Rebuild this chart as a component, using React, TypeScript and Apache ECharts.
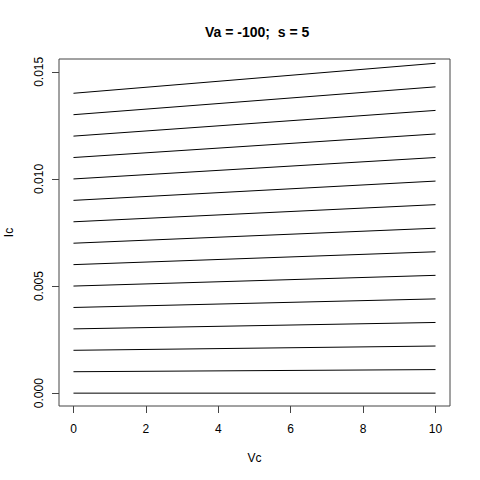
import React, { useEffect, useRef } from "react";
import * as echarts from "echarts";

const vcRange = [0, 10];
const icStart = [0, 0.001, 0.002, 0.003, 0.004, 0.005, 0.006, 0.007, 0.008, 0.009, 0.01, 0.011, 0.012, 0.013, 0.014];
const icEnd = [0, 0.0011, 0.0022, 0.0033, 0.0044, 0.0055, 0.0066, 0.0077, 0.0088, 0.0099, 0.011, 0.0121, 0.0132, 0.0143, 0.0154];
const xTicks = [0, 2, 4, 6, 8, 10];
const yTicks = [0, 0.005, 0.01, 0.015];
const titleText = "Va = -100;  s = 5";

export default function App() {
  const ref = useRef<HTMLDivElement>(null);
  useEffect(() => {
    const chart = echarts.init(ref.current!, null, { renderer: "svg" });
    const font = "Liberation Sans, Arial, sans-serif";
    const series = icStart.map((s, i) => ({
      type: "line",
      data: [
        [vcRange[0], s],
        [vcRange[1], icEnd[i]],
      ],
      showSymbol: false,
      lineStyle: { color: "#000", width: 1 },
      silent: true,
    }));
    chart.setOption({
      animation: false,
      backgroundColor: "#fff",
      title: {
        text: titleText,
        left: 200,
        top: 20,
        textStyle: { fontFamily: font, fontSize: 14, fontWeight: "bold", color: "#000" },
      },
      grid: {
        left: 59,
        right: 30,
        top: 59,
        bottom: 74,
        show: true,
        borderColor: "#444",
        borderWidth: 1,
        backgroundColor: "transparent",
        containLabel: false,
        outerBoundsMode: "none",
      },
      xAxis: {
        type: "value",
        min: -0.4,
        max: 10.4,
        name: "Vc",
        nameLocation: "middle",
        nameGap: 46,
        nameTextStyle: { fontFamily: font, fontSize: 12, color: "#000" },
        axisLine: { show: false, onZero: false },
        splitLine: { show: false },
        axisTick: { show: true, length: 7, inside: false, customValues: xTicks, lineStyle: { color: "#444" } },
        axisLabel: {
          customValues: xTicks,
          margin: 17,
          fontFamily: font,
          fontSize: 12,
          color: "#000",
        },
      },
      yAxis: {
        type: "value",
        min: -0.0006,
        max: 0.0156,
        name: "Ic",
        nameLocation: "middle",
        nameRotate: 90,
        nameGap: 44,
        nameTextStyle: { fontFamily: font, fontSize: 12, color: "#000" },
        axisLine: { show: false, onZero: false },
        splitLine: { show: false },
        axisTick: { show: true, length: 7, inside: false, customValues: yTicks, lineStyle: { color: "#444" } },
        axisLabel: {
          customValues: yTicks,
          rotate: 90,
          margin: 14,
          fontFamily: font,
          fontSize: 12,
          color: "#000",
          formatter: (v: number) => v.toFixed(3),
        },
      },
      series,
    });
    return () => chart.dispose();
  }, []);
  return <div ref={ref} style={{ position: "absolute", left: 0, top: 0, width: 480, height: 480 }} />;
}
